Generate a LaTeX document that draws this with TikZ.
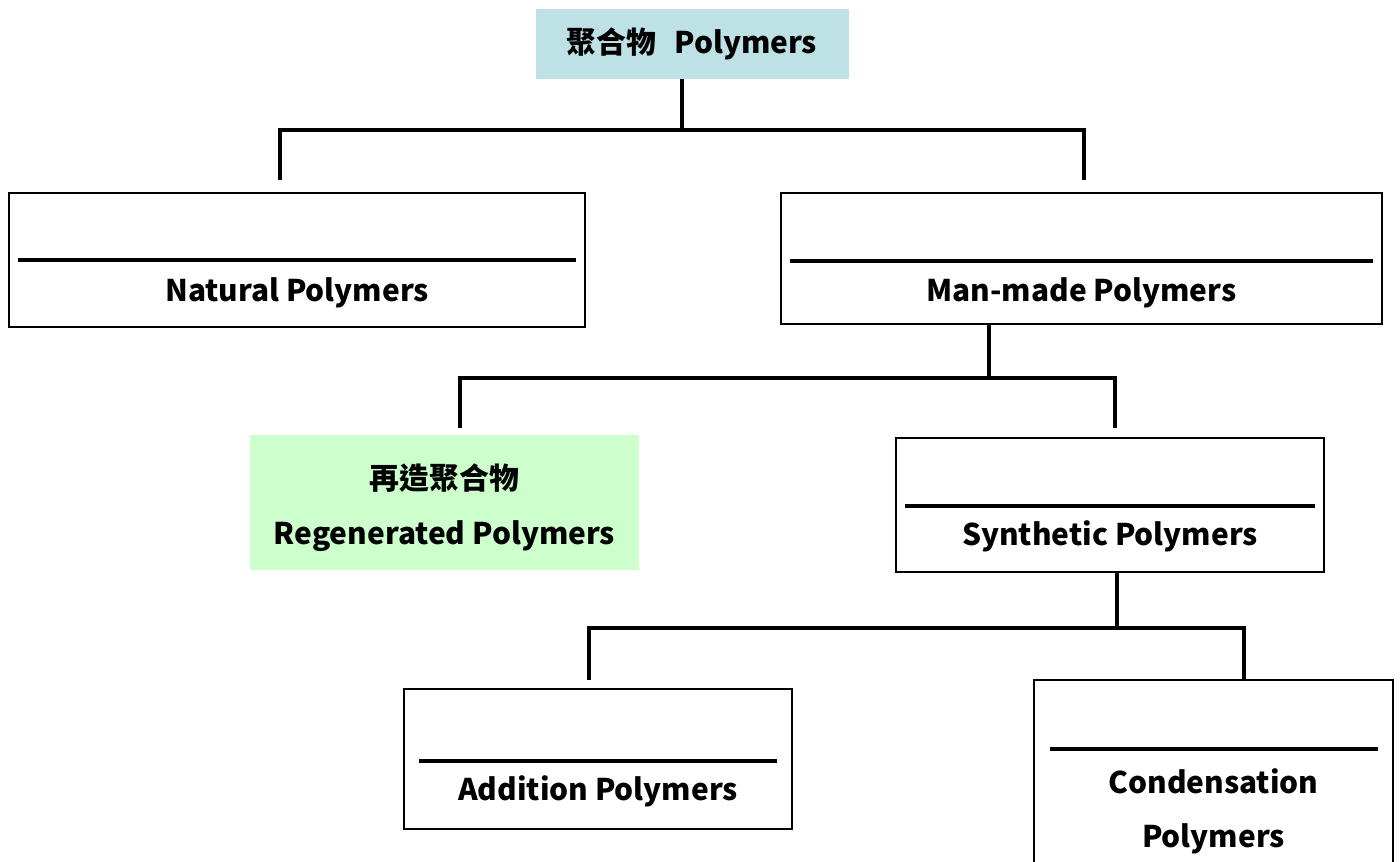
\documentclass[tikz,border=0pt]{standalone}
\usepackage{fontspec}
\setmainfont{Noto Sans CJK TC}
\usetikzlibrary{positioning}

\definecolor{topcyan}{RGB}{189,225,228}
\definecolor{regreen}{RGB}{204,255,204}

\tikzset{
  box/.style={draw, line width=1.1pt, inner sep=0pt},
  fillbox/.style={inner sep=0pt},
  rule/.style={line width=2.3pt},
  conn/.style={line width=2.8pt},
  txt/.style={font=\fontsize{17}{31}\selectfont\bfseries, inner sep=0pt, align=center},
}

\begin{document}
\begin{tikzpicture}[x=0.02cm, y=-0.02cm]
    \useasboundingbox (0,0) rectangle (1400,862);
    % top
    \node[fillbox, fill=topcyan, minimum width=6.26cm, minimum height=1.4cm] (poly) at (692.5,44) {};
    \node[txt] (polyT) at (692,44) {聚合物\hspace{0.6em}Polymers};
    % level 1
    \node[box, minimum width=11.52cm, minimum height=2.68cm] (nat) at (297,260) {};
    \draw[rule] ([xshift=0.2cm]nat.west) -- ([xshift=-0.2cm]nat.east);
    \node[txt] (natT) at ([yshift=-0.66cm]nat.center) {Natural Polymers};
    \node[box, minimum width=12.02cm, minimum height=2.62cm] (man) at (1081.5,258.5) {};
    \draw[rule] ([xshift=0.2cm,yshift=-0.05cm]man.west) -- ([xshift=-0.2cm,yshift=-0.05cm]man.east);
    \node[txt] (manT) at ([yshift=-0.69cm]man.center) {Man-made Polymers};
    % level 2
    \node[fillbox, fill=regreen, minimum width=7.78cm, minimum height=2.7cm] (reg) at (444.5,502.5) {};
    \node[txt] (regT) at ([yshift=-0.1cm]reg.center) {再造聚合物\\Regenerated Polymers};
    \node[box, minimum width=8.56cm, minimum height=2.68cm] (syn) at (1110,505) {};
    \draw[rule] ([xshift=0.2cm,yshift=-0.02cm]syn.west) -- ([xshift=-0.2cm,yshift=-0.02cm]syn.east);
    \node[txt] (synT) at ([yshift=-0.62cm]syn.center) {Synthetic Polymers};
    % level 3
    \node[box, minimum width=7.76cm, minimum height=2.8cm] (add) at (598,759) {};
    \draw[rule] ([xshift=0.32cm,yshift=-0.04cm]add.west) -- ([xshift=-0.32cm,yshift=-0.04cm]add.east);
    \node[txt] (addT) at ([yshift=-0.64cm]add.center) {Addition Polymers};
    \node[box, minimum width=7.18cm, minimum height=4.0cm] (con) at (1213.5,780) {};
    \draw[rule] ([xshift=0.34cm,yshift=-1.4cm]con.north west) -- ([xshift=-0.32cm,yshift=-1.4cm]con.north east);
    \node[txt] (conT) at ([yshift=-0.63cm]con.center) {Condensation\\Polymers};
    % connectors
    \coordinate (j0) at (682,130);
    \coordinate (natIn) at (280,180);
    \coordinate (manIn) at (1084,180);
    \draw[conn] (poly.south -| j0) -- (j0);
    \draw[conn] (natIn) |- (j0) -| (manIn);
    \coordinate (j1) at (989,378);
    \coordinate (regIn) at (460,428);
    \coordinate (synIn) at (1115,428);
    \draw[conn] (man.south -| j1) -- (j1);
    \draw[conn] (regIn) |- (j1) -| (synIn);
    \coordinate (j2) at (1117,628);
    \coordinate (addIn) at (589,680);
    \coordinate (conIn) at (1244,680);
    \draw[conn] (syn.south -| j2) -- (j2);
    \draw[conn] (addIn) |- (j2) -| (conIn);
\end{tikzpicture}
\end{document}
